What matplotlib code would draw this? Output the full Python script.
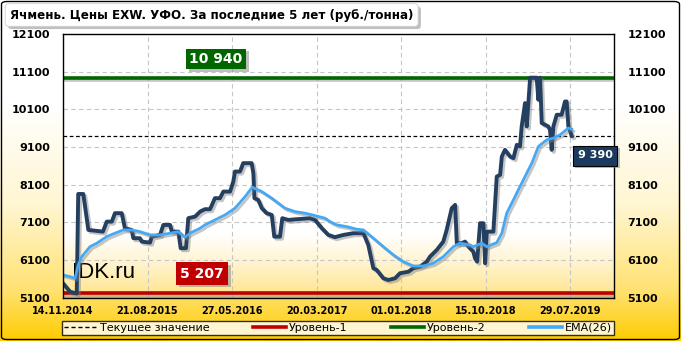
import numpy as np
import matplotlib
matplotlib.use('Agg')
import matplotlib.pyplot as plt
from matplotlib import patheffects as pe
from matplotlib.colors import LinearSegmentedColormap
from matplotlib.patches import FancyBboxPatch
from matplotlib.lines import Line2D

# ---------------- data ----------------
title = "Ячмень. Цены EXW. УФО. За последние 5 лет (руб./тонна)"

price_idx = [0, 3.3, 6.5, 7.2, 9.6, 12.0, 18.9, 20.7, 23.1, 24.6, 27.8, 29.3, 32.5, 33.3, 36.4, 37.3,
             41.2, 42.0, 45.9, 47.5, 50.7, 51.5, 54.6, 55.7, 58.2, 59.3, 62.5, 64.9, 67.2, 69.6, 71.9,
             74.3, 75.9, 79.1, 80.6, 81.4, 83.8, 85.3, 89.3, 90.1, 90.6, 92.4, 94.1, 96.4, 98.8, 100.0,
             102.7, 103.8, 106.6, 116.9, 119.3, 122.5, 125.6, 128.8, 129.6, 132.7, 137.4, 142.2, 144.5,
             146.9, 148.5, 151.6, 154.0, 157.2, 159.5, 163.5, 165.8, 169.0, 172.2, 173.7, 176.9, 180.0,
             181.6, 184.0, 185.6, 186.4, 188.7, 190.3, 191.9, 194.2, 195.0, 196.0, 197.4, 199.0, 199.8,
             200.6, 203.7, 205.3, 206.9, 207.7, 209.2, 211.6, 213.2, 214.8, 216.3, 217.1, 218.7, 219.5,
             221.1, 222.6, 224.2, 225.0, 225.8, 226.6, 228.2, 229.7, 230.5, 231.3, 232.1, 233.7, 236.0,
             237.6, 238.4, 239.2, 240.8]
price_val = [5478, 5254, 5207, 7850, 7850, 6895, 6850, 7116, 7116, 7340, 7340, 6940, 6895, 6675, 6675, 6584,
             6558, 6717, 6762, 7028, 7028, 6850, 6850, 6409, 6409, 7207, 7249, 7382, 7446, 7446, 7738,
             7738, 7914, 7914, 8180, 8446, 8446, 8669, 8669, 8403, 7738, 7693, 7473, 7340, 7294, 6717,
             6717, 7207, 7161, 7207, 7161, 6940, 6762, 6701, 6717, 6762, 6808, 6808, 6496,
             5877, 5831, 5611, 5565, 5611, 5744, 5786, 5877, 5919, 6052, 6185, 6363, 6584,
             6895, 7472, 7560, 6542, 6542, 6584, 6451, 6318, 6143, 6052, 7073, 7073, 6010,
             6850, 6850, 8313, 8358, 8845, 9023, 8845, 8802, 9156, 9111, 9643, 10265, 9643,
             10940, 10940, 10940, 10353, 10940, 9733, 9688, 9643, 9555, 9023, 9643, 9954, 9954,
             10307, 10307, 9643, 9390]

ema_idx = [0, 3.3, 5.7, 7.2, 8.9, 12.8, 16.0, 20.7, 24.6, 28.5, 32.5, 36.4, 41.2, 45.9, 50.7,
           54.6, 57.8, 60.1, 64.9, 67.2, 71.9, 76.7, 81.4, 86.2, 89.6, 94.1, 98.8, 105.1, 109.8, 114.6,
           119.3, 124.0, 126.4, 129.6, 134.3, 139.0, 142.2, 146.9, 151.6, 156.4, 161.1, 165.8, 170.6,
           175.3, 180.0, 184.8, 187.9, 192.7, 194.2, 198.2, 200.6, 205.3, 207.7, 210.0, 213.2, 216.3,
           219.5, 221.9, 225.0, 229.0, 232.1, 235.3, 239.2, 240.8]
ema_val = [5698, 5653, 5611, 5964, 6185, 6451, 6542, 6717, 6808, 6895, 6895, 6850, 6762, 6762, 6808,
           6850, 6701, 6808, 6940, 7028, 7161, 7294, 7472, 7781, 8031, 7914, 7738, 7472, 7382, 7340,
           7276, 7207, 7116, 7028, 6983, 6914, 6895, 6675, 6451, 6230, 6052, 5938, 5938,
           6010, 6185, 6451, 6542, 6496, 6451, 6542, 6451, 6558, 6808, 7339, 7693, 8047,
           8403, 8669, 9111, 9289, 9334, 9422, 9600, 9573]

x_tick_pos = [0, 40, 80, 120, 160, 200, 240]
x_tick_labels = ['14.11.2014', '21.08.2015', '27.05.2016', '20.03.2017',
                 '01.01.2018', '15.10.2018', '29.07.2019']
y_ticks = [5100, 6100, 7100, 8100, 9100, 10100, 11100, 12100]
current_value = 9390
level_1 = 5207
level_2 = 10940
legend_labels = ['Текущее значение', 'Уровень-1', 'Уровень-2', 'EMA(26)']

# ---------------- styling ----------------
W, H = 681, 341
fig = plt.figure(figsize=(W / 100, H / 100), dpi=100)

# figure background gradient
bg = fig.add_axes([0, 0, 1, 1], zorder=-10)
cm_fig = LinearSegmentedColormap.from_list(
    'figbg', [(0, '#FFFFFF'), (0.3, '#FFFFFF'), (0.6, '#FFF6D2'), (0.85, '#FFE273'), (1, '#FFCC00')])
bg.imshow(np.linspace(0, 1, 256)[:, None], cmap=cm_fig, aspect='auto',
          extent=[0, 1, 0, 1], origin='upper')
bg.set_xlim(0, 1); bg.set_ylim(0, 1)
bg.axis('off')

border = FancyBboxPatch((1.5 / W, 1.5 / H), 1 - 3 / W, 1 - 3 / H,
                        boxstyle='round,pad=0,rounding_size=0.008',
                        transform=fig.transFigure, fill=False, ec='black', lw=1.0, zorder=20)
fig.patches.append(border)

# main axes
left, right, top, bottom = 63, 614, 34, 297.5
ax = fig.add_axes([left / W, 1 - bottom / H, (right - left) / W, (bottom - top) / H])
ax.set_facecolor('none')
XMAX = 260.8
YMIN, YMAX = 5100, 12100

cm_ax = LinearSegmentedColormap.from_list(
    'axbg', [(0, '#FFFFFF'), (0.76, '#FFFFFF'), (0.88, '#FFF3CC'), (1, '#FFE48A')])
ax.imshow(np.linspace(0, 1, 256)[:, None], cmap=cm_ax, aspect='auto',
          extent=[0, XMAX, YMIN, YMAX], origin='upper', zorder=0)

ax.set_xlim(0, XMAX)
ax.set_ylim(YMIN, YMAX)

ax.grid(True, color='#C6C6C6', linestyle=(0, (4, 3)), linewidth=0.8, zorder=1)
ax.set_axisbelow(True)

shadow = [pe.SimpleLineShadow(offset=(1.5, -1.5), shadow_color='#808080', alpha=0.45), pe.Normal()]

ax.axhline(level_2, color='#006600', lw=2.6, zorder=3, path_effects=shadow)
ax.axhline(level_1, color='#C00000', lw=2.6, zorder=3, path_effects=shadow)
ax.axhline(current_value, color='black', lw=0.9, linestyle=(0, (3, 2)), zorder=3)

ax.text((72 - left) / (right - left), (bottom - 273) / (bottom - top), 'IDK.ru',
        transform=ax.transAxes, ha='left', va='center', fontsize=16,
        family='Liberation Sans', color='black', zorder=2)

ax.plot(price_idx, price_val, color='#243F60', lw=2.8, zorder=5,
        solid_joinstyle='round', path_effects=shadow)
ax.plot(ema_idx, ema_val, color='#45A8F5', lw=2.0, zorder=6,
        solid_joinstyle='round', path_effects=shadow)

# ticks
ax.set_yticks(y_ticks)
ax.set_yticklabels([str(v) for v in y_ticks])
ax.tick_params(axis='y', length=0, labelsize=8, pad=9.5, labelleft=True, labelright=True)
ax.set_xticks(x_tick_pos)
ax.set_xticklabels(x_tick_labels)
ax.tick_params(axis='x', length=0, labelsize=7, pad=6)
for lbl in ax.get_xticklabels():
    lbl.set_fontweight('bold')
for t in ax.yaxis.get_major_ticks():
    t.label1.set_fontweight('bold')
    t.label2.set_fontweight('bold')
    t.label2.set_fontsize(8)

for s in ax.spines.values():
    s.set_color('black')
    s.set_linewidth(1.0)
    s.set_zorder(7)

box_shadow = [pe.SimplePatchShadow(offset=(2, -2), shadow_rgbFace='#808080', alpha=0.5), pe.Normal()]

t1 = ax.text((216 - left) / (right - left), (bottom - 59) / (bottom - top), '10 940',
             transform=ax.transAxes, ha='center', va='center', fontsize=10, fontweight='bold',
             color='white', zorder=9,
             bbox=dict(boxstyle='square,pad=0.25', fc='#006600', ec='none'))
t1.get_bbox_patch().set_path_effects(box_shadow)

t2 = ax.text((202 - left) / (right - left), (bottom - 273.5) / (bottom - top), '5 207',
             transform=ax.transAxes, ha='center', va='center', fontsize=10, fontweight='bold',
             color='white', zorder=9,
             bbox=dict(boxstyle='square,pad=0.3', fc='#C00000', ec='none'))
t2.get_bbox_patch().set_path_effects(box_shadow)

t3 = ax.text((595 - left) / (right - left), (bottom - 155.5) / (bottom - top), '9 390',
             transform=ax.transAxes, ha='center', va='center', fontsize=8, fontweight='bold',
             color='white', zorder=9, clip_on=False,
             bbox=dict(boxstyle='square,pad=0.45', fc='#1C3A5E', ec='black', lw=0.8))
t3.get_bbox_patch().set_path_effects(box_shadow)

# title
tt = fig.text(10 / W, 1 - 15 / H, title, ha='left', va='center', fontsize=8.6,
              fontweight='bold', color='black', zorder=15,
              bbox=dict(boxstyle='round,pad=0.4,rounding_size=0.3', fc='white', ec='#D0D0D0', lw=0.6))
tt.get_bbox_patch().set_path_effects(box_shadow)

# legend
handles = [Line2D([], [], color='black', lw=1.0, linestyle=(0, (3, 2))),
           Line2D([], [], color='#C00000', lw=2.6),
           Line2D([], [], color='#006600', lw=2.6),
           Line2D([], [], color='#45A8F5', lw=2.6)]
leg = fig.legend(handles, legend_labels, loc='center', ncol=4,
                 bbox_to_anchor=(62 / W, 1 - 335.5 / H, (614 - 62) / W, 15 / H),
                 mode='expand', fontsize=8, handlelength=3.0, handletextpad=0.3,
                 borderpad=0.15, columnspacing=1.0, frameon=True, fancybox=False,
                 facecolor=(1, 1, 1, 0.15), edgecolor='black', borderaxespad=0)
leg.get_frame().set_linewidth(1.0)

fig.savefig('out.png', dpi=100)
